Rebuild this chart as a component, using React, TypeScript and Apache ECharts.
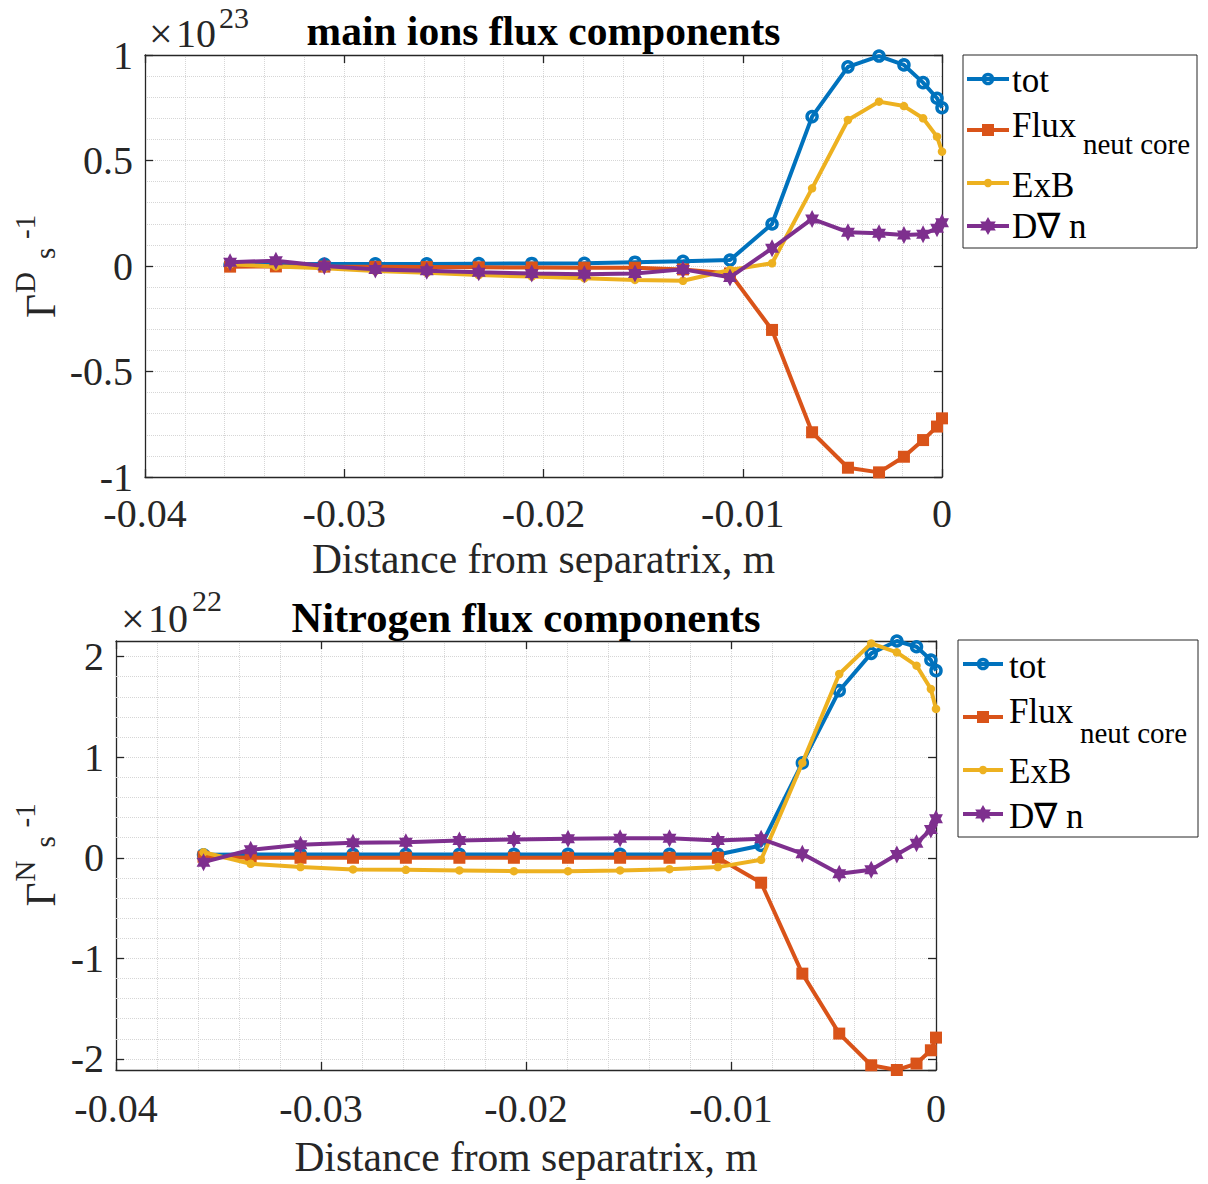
import React, { useEffect, useRef } from 'react';
import * as echarts from 'echarts';

// Distance from separatrix (m) – shared by both panels
const xDist = [-0.03573, -0.03343, -0.0310, -0.02844, -0.02586, -0.02325, -0.02059, -0.01795, -0.01541, -0.0130, -0.01064, -0.00853, -0.00652, -0.00472, -0.00316, -0.00191, -0.00095, -0.00025, 0.0];

// main ions flux components (x 1e23)
const ionTot = [0.006, 0.008, 0.009, 0.010, 0.010, 0.011, 0.012, 0.013, 0.018, 0.022, 0.028, 0.199, 0.708, 0.944, 0.995, 0.953, 0.869, 0.795, 0.750];
const ionFlux = [-0.003, -0.002, -0.003, -0.004, -0.005, -0.006, -0.007, -0.008, -0.008, -0.016, -0.035, -0.303, -0.788, -0.956, -0.978, -0.904, -0.825, -0.761, -0.722];
const ionExB = [0.008, -0.002, -0.011, -0.024, -0.032, -0.043, -0.050, -0.058, -0.066, -0.070, -0.019, 0.013, 0.368, 0.692, 0.779, 0.758, 0.700, 0.613, 0.542];
const ionDiff = [0.018, 0.025, 0.000, -0.016, -0.022, -0.030, -0.035, -0.039, -0.035, -0.016, -0.054, 0.084, 0.223, 0.160, 0.155, 0.147, 0.150, 0.179, 0.205];

// Nitrogen flux components (x 1e22)
const nTot = [0.030, 0.033, 0.033, 0.033, 0.033, 0.033, 0.033, 0.033, 0.033, 0.033, 0.033, 0.122, 0.943, 1.661, 2.032, 2.155, 2.098, 1.966, 1.860];
const nFlux = [0.010, 0.000, 0.000, 0.000, 0.000, 0.000, 0.000, 0.000, 0.000, 0.000, 0.000, -0.248, -1.152, -1.748, -2.063, -2.110, -2.046, -1.914, -1.788];
const nExB = [0.055, -0.060, -0.093, -0.116, -0.120, -0.126, -0.133, -0.133, -0.126, -0.113, -0.093, -0.020, 0.943, 1.827, 2.131, 2.042, 1.910, 1.678, 1.480];
const nDiff = [-0.044, 0.080, 0.129, 0.149, 0.155, 0.172, 0.182, 0.190, 0.195, 0.195, 0.172, 0.189, 0.040, -0.159, -0.120, 0.033, 0.145, 0.281, 0.387];

// Axis ranges / ticks
const X_MIN = -0.04;
const X_MAX = 0;
const X_INTERVAL = 0.01;
const ION_Y_MIN = -1;
const ION_Y_MAX = 1;
const ION_Y_INTERVAL = 0.5;
const N_Y_MIN = -2.11;
const N_Y_MAX = 2.155;
const nMinorY = [-1.8, -1.6, -1.4, -1.2, -0.8, -0.6, -0.4, -0.2, 0.2, 0.4, 0.6, 0.8, 1.2, 1.4, 1.6, 1.8];

// Texts
const SERIES_NAMES = ['tot', 'Flux', 'ExB', 'D\u2207 n'];
const FLUX_SUB = 'neut core';
const TITLE_TOP = 'main ions flux components';
const TITLE_BOTTOM = 'Nitrogen flux components';
const X_LABEL = 'Distance from separatrix, m';
const EXP_TOP = '23';
const EXP_BOTTOM = '22';

const COLORS = ['#0072BD', '#D95319', '#EDB120', '#7E2F8E'];
const FONT = '"Liberation Serif", "Times New Roman", serif';
const AXIS_COLOR = '#262626';
const GRID_COLOR = '#d6d6d6';
const LINE_W = 4;
const HEX_PATH = 'path://M10 0L12.885 5L18.66 5L15.77 10L18.66 15L12.885 15L10 20L7.115 15L1.34 15L4.23 10L1.34 5L7.115 5Z';

function markerStyle(i: number) {
  const c = COLORS[i];
  if (i === 0) return { symbol: 'circle', symbolSize: 10, itemStyle: { color: 'rgba(0,0,0,0)', borderColor: c, borderWidth: 3.5 } };
  if (i === 1) return { symbol: 'rect', symbolSize: 12, itemStyle: { color: c, borderWidth: 0 } };
  if (i === 2) return { symbol: 'circle', symbolSize: 8.5, itemStyle: { color: c, borderWidth: 0 } };
  return { symbol: HEX_PATH, symbolSize: [16, 18], symbolKeepAspect: true, itemStyle: { color: c, borderWidth: 0 } };
}

function makeSeries(values: number[], i: number, axisIndex: number, extra: any = {}) {
  return {
    type: 'line',
    name: SERIES_NAMES[i],
    xAxisIndex: axisIndex,
    yAxisIndex: axisIndex,
    data: xDist.map((x, k) => [x, values[k]]),
    lineStyle: { color: COLORS[i], width: LINE_W },
    showSymbol: true,
    clip: false,
    silent: true,
    z: 3 + i,
    ...markerStyle(i),
    ...extra,
  };
}

const axisLineCfg = { show: true, onZero: false, lineStyle: { color: AXIS_COLOR, width: 1.3 } };
const tickCfg = { show: true, inside: true, length: 8, lineStyle: { color: AXIS_COLOR, width: 1.3 } };
const gridLine = { show: true, lineStyle: { type: 'dotted', color: GRID_COLOR, width: 1 } };
const labelCfg = { fontFamily: FONT, fontSize: 40, color: AXIS_COLOR, lineHeight: 30 };

function xAxesFor(gridIndex: number, margin: number, nameGap: number) {
  const common = { type: 'value', gridIndex, min: X_MIN, max: X_MAX, interval: X_INTERVAL, axisLine: axisLineCfg, axisTick: tickCfg };
  return [
    {
      ...common,
      position: 'bottom',
      name: X_LABEL,
      nameLocation: 'middle',
      nameGap,
      nameTextStyle: { fontFamily: FONT, fontSize: 41.5, color: AXIS_COLOR },
      axisLabel: { ...labelCfg, margin },
      splitLine: gridLine,
      minorTick: { show: false, splitNumber: 5 },
      minorSplitLine: gridLine,
    },
    { ...common, position: 'top', axisLabel: { show: false }, splitLine: { show: false } },
  ];
}

function buildLegend(box: any, rows: { lineY: number; textY: number }[], sub: { x: number; y: number }) {
  const els: any[] = [
    { type: 'rect', shape: { x: box.x, y: box.y, width: box.w, height: box.h }, style: { fill: '#fff', stroke: AXIS_COLOR, lineWidth: 1 }, z: 10 },
  ];
  const cx = (box.l1 + box.l2) / 2;
  rows.forEach((r, i) => {
    const c = COLORS[i];
    els.push({ type: 'line', shape: { x1: box.l1, y1: r.lineY, x2: box.l2, y2: r.lineY }, style: { stroke: c, lineWidth: LINE_W }, z: 11 });
    if (i === 0) {
      els.push({ type: 'circle', shape: { cx, cy: r.lineY, r: 4.5 }, style: { fill: 'none', stroke: c, lineWidth: 3.5 }, z: 12 });
    } else if (i === 1) {
      els.push({ type: 'rect', shape: { x: cx - 6, y: r.lineY - 6, width: 12, height: 12 }, style: { fill: c }, z: 12 });
    } else if (i === 2) {
      els.push({ type: 'circle', shape: { cx, cy: r.lineY, r: 4.2 }, style: { fill: c }, z: 12 });
    } else {
      const pts: number[][] = [];
      for (let k = 0; k < 12; k++) {
        const a = -Math.PI / 2 + (k * Math.PI) / 6;
        const rr = k % 2 === 0 ? 9 : 5.2;
        pts.push([cx + rr * Math.cos(a), r.lineY + rr * Math.sin(a)]);
      }
      els.push({ type: 'polygon', shape: { points: pts }, style: { fill: c }, z: 12 });
    }
    els.push({
      type: 'text', x: box.tx, y: r.textY, z: 12,
      style: { text: SERIES_NAMES[i], font: `35px ${FONT}`, fill: '#000', align: 'left', verticalAlign: 'middle', textAlign: 'left', textVerticalAlign: 'middle' },
    });
  });
  els.push({
    type: 'text', x: sub.x, y: sub.y, z: 12,
    style: { text: FLUX_SUB, font: `29px ${FONT}`, fill: '#000', align: 'left', verticalAlign: 'middle', textAlign: 'left', textVerticalAlign: 'middle' },
  });
  return els;
}

function txt(text: string, x: number, y: number, size: number, opts: any = {}) {
  const { rotation, align, weight, color } = opts;
  const el: any = {
    type: 'text', x, y, z: 12,
    style: {
      text,
      font: `${weight || 'normal'} ${size}px ${FONT}`,
      fill: color || AXIS_COLOR,
      align: align || 'left', verticalAlign: 'middle',
      textAlign: align || 'left', textVerticalAlign: 'middle',
    },
  };
  if (rotation) el.rotation = rotation;
  return el;
}

function yLabel(sup: string, dy: number) {
  const R = Math.PI / 2;
  return [
    txt('\u0393', 41, 318 + dy, 41.5, { rotation: R }),
    txt(sup, 25, 293 + dy, 29, { rotation: R }),
    txt('s', 45, 259 + dy, 29, { rotation: R }),
    txt('-1', 25, 239 + dy, 29, { rotation: R }),
  ];
}

function buildOption() {
  const yTop = { type: 'value', gridIndex: 0, min: ION_Y_MIN, max: ION_Y_MAX, interval: ION_Y_INTERVAL, axisLine: axisLineCfg, axisTick: tickCfg };
  const yBot = { type: 'value', gridIndex: 1, min: N_Y_MIN, max: N_Y_MAX, splitNumber: 4, axisLine: axisLineCfg, axisTick: tickCfg };

  return {
    animation: false,
    backgroundColor: '#fff',
    textStyle: { fontFamily: FONT },
    grid: [
      { left: 145, top: 55, width: 797, height: 422, containLabel: false },
      { left: 116, top: 641, width: 820, height: 429, containLabel: false },
    ],
    xAxis: [...xAxesFor(0, 21, 61), ...xAxesFor(1, 23, 66)],
    yAxis: [
      {
        ...yTop, position: 'left',
        axisLabel: { ...labelCfg, margin: 12 },
        splitLine: gridLine,
        minorTick: { show: false, splitNumber: 5 },
        minorSplitLine: gridLine,
      },
      { ...yTop, position: 'right', axisLabel: { show: false }, splitLine: { show: false } },
      {
        ...yBot, position: 'left',
        axisLabel: { ...labelCfg, margin: 12, showMinLabel: false, showMaxLabel: false },
        splitLine: gridLine,
      },
      { ...yBot, gridIndex: 1, position: 'right', axisLabel: { show: false }, splitLine: { show: false } },
    ],
    series: [
      makeSeries(ionTot, 0, 0),
      makeSeries(ionFlux, 1, 0),
      makeSeries(ionExB, 2, 0),
      makeSeries(ionDiff, 3, 0),
      makeSeries(nTot, 0, 2, {
        markLine: {
          silent: true, symbol: 'none', z: 1, animation: false,
          label: { show: false },
          lineStyle: { type: 'dotted', color: GRID_COLOR, width: 1 },
          emphasis: { disabled: true },
          data: nMinorY.map((v) => ({ yAxis: v })),
        },
      }),
      makeSeries(nFlux, 1, 2),
      makeSeries(nExB, 2, 2),
      makeSeries(nDiff, 3, 2),
    ],
    graphic: [
      // titles
      txt(TITLE_TOP, 543.5, 31, 41.5, { align: 'center', weight: 'bold', color: '#000' }),
      txt(TITLE_BOTTOM, 526, 617, 42.5, { align: 'center', weight: 'bold', color: '#000' }),
      // exponent annotations
      txt('\u00d7', 149, 33.5, 42),
      txt('10', 176, 33.5, 40),
      txt(EXP_TOP, 219, 17, 30),
      txt('\u00d7', 121, 618.5, 42),
      txt('10', 148, 618.5, 40),
      txt(EXP_BOTTOM, 192, 600, 30),
      // y labels
      ...yLabel('D', 0),
      ...yLabel('N', 588.5),
      // legends
      ...buildLegend(
        { x: 963, y: 55, w: 234, h: 193, l1: 967, l2: 1009, tx: 1012 },
        [{ lineY: 79, textY: 80 }, { lineY: 130, textY: 125 }, { lineY: 183, textY: 185 }, { lineY: 226, textY: 226 }],
        { x: 1083, y: 144 }
      ),
      ...buildLegend(
        { x: 958, y: 640, w: 240, h: 197, l1: 963, l2: 1003, tx: 1009 },
        [{ lineY: 664, textY: 666 }, { lineY: 717, textY: 711 }, { lineY: 770, textY: 771 }, { lineY: 814, textY: 816 }],
        { x: 1080, y: 733 }
      ),
    ],
  };
}

export default function App() {
  const ref = useRef<HTMLDivElement>(null);
  useEffect(() => {
    if (!ref.current) return;
    const chart = echarts.init(ref.current, null, { renderer: 'svg' });
    chart.setOption(buildOption() as any);
    return () => chart.dispose();
  }, []);
  return (
    <div
      ref={ref}
      style={{ position: 'absolute', left: 0, top: 0, width: 1208, height: 1184, background: '#fff' }}
    />
  );
}
